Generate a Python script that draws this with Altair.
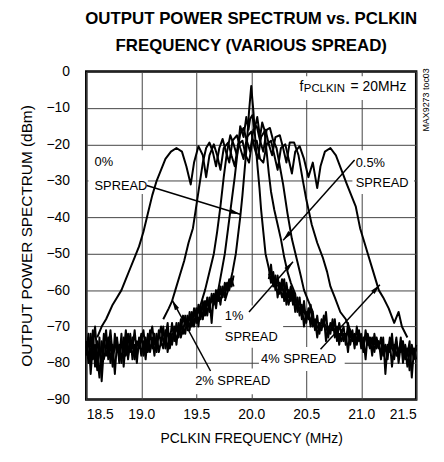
import math
import altair as alt
import pandas as pd

FONT = "Liberation Sans, Arial, Helvetica, sans-serif"

# ---------------- chart values ----------------
x_ticks = [18.5, 19.0, 19.5, 20.0, 20.5, 21.0, 21.5]
y_ticks = [0, -10, -20, -30, -40, -50, -60, -70, -80, -90]

spread_0 = [(19.76, -63), (19.80, -59), (19.83, -55), (19.86, -50), (19.88, -45), (19.90, -40),
            (19.92, -34), (19.94, -27), (19.96, -20), (19.98, -11), (20.00, -4), (20.02, -11),
            (20.04, -20), (20.06, -27), (20.075, -32), (20.09, -38), (20.11, -44), (20.13, -50),
            (20.16, -54), (20.20, -57), (20.24, -59)]

spread_05 = [(19.68, -63), (19.70, -60), (19.73, -55), (19.76, -50), (19.79, -43), (19.82, -36),
             (19.85, -29), (19.88, -21), (19.90, -15), (19.93, -18), (19.955, -12.5), (19.975, -16),
             (19.99, -13), (20.01, -12), (20.03, -16), (20.055, -12.5), (20.08, -18), (20.10, -14),
             (20.12, -16), (20.14, -22), (20.16, -28), (20.18, -33), (20.21, -38), (20.24, -42),
             (20.27, -46), (20.30, -51), (20.33, -55), (20.36, -58), (20.40, -61)]

spread_1 = [(19.52, -66), (19.55, -63), (19.58, -60), (19.62, -55), (19.66, -50), (19.69, -44),
            (19.72, -37), (19.75, -29), (19.78, -22), (19.81, -17.5), (19.84, -20), (19.87, -23),
            (19.90, -17), (19.93, -15.5), (19.96, -19), (19.99, -22), (20.02, -16), (20.05, -15),
            (20.08, -19), (20.11, -22), (20.14, -16), (20.17, -15.5), (20.20, -19), (20.23, -21),
            (20.26, -26), (20.29, -31), (20.33, -39), (20.37, -46), (20.41, -51), (20.45, -56),
            (20.48, -60), (20.52, -63), (20.56, -66)]

spread_2 = [(19.20, -68), (19.25, -65), (19.28, -63), (19.31, -60), (19.35, -56), (19.39, -52),
            (19.43, -47), (19.47, -43), (19.50, -37), (19.53, -31), (19.56, -25), (19.59, -21),
            (19.62, -19.5), (19.65, -22), (19.68, -26), (19.71, -21), (19.74, -18.5), (19.77, -22),
            (19.80, -25), (19.83, -19), (19.87, -17.5), (19.90, -21), (19.93, -24), (19.96, -18),
            (20.00, -16.5), (20.03, -21), (20.06, -24), (20.09, -18), (20.13, -16), (20.16, -20),
            (20.19, -23), (20.22, -18), (20.26, -17.5), (20.29, -21), (20.32, -25), (20.35, -19.5),
            (20.39, -19.5), (20.43, -23), (20.47, -30), (20.50, -35), (20.55, -42), (20.60, -47),
            (20.65, -51), (20.69, -55), (20.72, -59), (20.76, -62), (20.81, -66), (20.86, -68),
            (20.90, -71)]

spread_4 = [(18.60, -73), (18.64, -70), (18.68, -68), (18.71, -66), (18.74, -64), (18.78, -62),
            (18.82, -60), (18.86, -57), (18.90, -54), (18.94, -51), (18.98, -48), (19.02, -44),
            (19.06, -39), (19.10, -34), (19.14, -30), (19.18, -27), (19.22, -24), (19.27, -22),
            (19.32, -21), (19.37, -22), (19.41, -26), (19.45, -31), (19.48, -25), (19.52, -20.5),
            (19.56, -23), (19.59, -29), (19.62, -23), (19.66, -20), (19.69, -23), (19.72, -27),
            (19.75, -21), (19.79, -19.5), (19.82, -23), (19.85, -26), (19.88, -20), (19.92, -19),
            (19.95, -23), (19.98, -25), (20.01, -19), (20.05, -19), (20.08, -24), (20.11, -25),
            (20.14, -20), (20.18, -19), (20.21, -23), (20.24, -27), (20.27, -21), (20.31, -20),
            (20.34, -24), (20.37, -28), (20.40, -22), (20.44, -20.5), (20.48, -24), (20.52, -29),
            (20.56, -25), (20.60, -32), (20.63, -26), (20.67, -22), (20.72, -21), (20.77, -23),
            (20.82, -27), (20.87, -31), (20.91, -34), (20.95, -37), (20.99, -43), (21.03, -47),
            (21.06, -50), (21.11, -55), (21.16, -60), (21.20, -62), (21.25, -65), (21.30, -69),
            (21.34, -66), (21.37, -70), (21.42, -73)]

# noise floor, low side and high side (three overlapping sweeps)
floor_low_f = [18.50, 18.52, 18.54, 18.56, 18.58, 18.60, 18.62, 18.64, 18.66, 18.68,
               18.70, 18.72, 18.74, 18.76, 18.78, 18.80, 18.82, 18.84, 18.86, 18.88,
               18.90, 18.92, 18.94, 18.96, 18.98, 19.00, 19.02, 19.04, 19.06, 19.08,
               19.10, 19.12, 19.14, 19.16, 19.18, 19.20, 19.22, 19.24, 19.26, 19.28,
               19.30, 19.32, 19.34, 19.36, 19.38, 19.40, 19.42, 19.44, 19.46, 19.48,
               19.50, 19.52, 19.54, 19.56, 19.58, 19.60, 19.62, 19.64, 19.66, 19.68,
               19.70, 19.72, 19.74, 19.76, 19.78, 19.80, 19.82, 19.84]
floor_low_a = [-74, -80, -72, -79, -75, -82, -73, -85, -76, -71,
               -79, -74, -81, -72, -77, -75, -80, -73, -78, -72,
               -77, -73, -79, -74, -76, -72, -78, -73, -77, -71,
               -76, -72, -77, -71, -75, -70, -76, -71, -74, -69,
               -74, -69, -73, -68, -72, -67, -71, -66, -70, -65,
               -69, -64, -68, -63, -67, -62, -66, -61, -64, -60,
               -63, -59, -62, -58, -60, -57, -59, -56]
floor_low_b = [-78, -72, -83, -75, -70, -78, -84, -74, -79, -76,
               -73, -80, -75, -83, -74, -79, -72, -81, -74, -78,
               -72, -79, -75, -80, -73, -78, -74, -79, -72, -77,
               -73, -78, -72, -77, -74, -76, -71, -77, -72, -75,
               -70, -75, -69, -73, -70, -72, -67, -71, -66, -70,
               -65, -70, -64, -68, -63, -67, -62, -69, -61, -65,
               -60, -64, -59, -62, -58, -60, -57, -59]
floor_low_c = [-76, -73, -79, -71, -81, -74, -77, -80, -72, -78,
               -76, -71, -78, -76, -73, -80, -74, -77, -71, -79,
               -74, -76, -71, -78, -75, -74, -71, -77, -75, -73,
               -70, -75, -74, -73, -70, -74, -73, -69, -76, -72,
               -72, -71, -70, -71, -67, -69, -69, -68, -68, -67,
               -67, -66, -66, -65, -65, -64, -64, -63, -63, -62,
               -62, -61, -60, -60, -59, -58, -57, -57]

floor_high_f = [20.16, 20.18, 20.20, 20.22, 20.24, 20.26, 20.28, 20.30, 20.32, 20.34,
                20.36, 20.38, 20.40, 20.42, 20.44, 20.46, 20.48, 20.50, 20.52, 20.54,
                20.56, 20.58, 20.60, 20.62, 20.64, 20.66, 20.68, 20.70, 20.72, 20.74,
                20.76, 20.78, 20.80, 20.82, 20.84, 20.86, 20.88, 20.90, 20.92, 20.94,
                20.96, 20.98, 21.00, 21.02, 21.04, 21.06, 21.08, 21.10, 21.12, 21.14,
                21.16, 21.18, 21.20, 21.22, 21.24, 21.26, 21.28, 21.30, 21.32, 21.34,
                21.36, 21.38, 21.40, 21.42, 21.44, 21.46, 21.48, 21.50]
floor_high_a = [-54, -58, -55, -60, -56, -61, -57, -63, -58, -62,
                -59, -64, -61, -66, -62, -68, -63, -69, -65, -70,
                -66, -71, -67, -72, -68, -70, -66, -73, -69, -71,
                -68, -74, -69, -72, -70, -75, -69, -73, -71, -76,
                -70, -74, -72, -77, -71, -75, -73, -78, -72, -76,
                -74, -79, -73, -83, -75, -77, -72, -79, -74, -78,
                -73, -80, -75, -78, -74, -84, -76, -79]
floor_high_b = [-57, -53, -59, -56, -62, -58, -60, -57, -64, -60,
                -63, -60, -66, -62, -67, -64, -70, -66, -68, -64,
                -70, -68, -73, -69, -71, -67, -74, -70, -72, -68,
                -73, -70, -75, -71, -74, -72, -77, -71, -74, -72,
                -75, -71, -76, -73, -79, -72, -75, -74, -77, -73,
                -76, -73, -78, -75, -77, -74, -81, -75, -78, -76,
                -77, -74, -79, -76, -82, -75, -78, -76]
floor_high_c = [-56, -55, -57, -58, -58, -59, -62, -60, -61, -64,
                -61, -62, -63, -64, -65, -66, -66, -67, -67, -68,
                -68, -69, -70, -71, -70, -69, -70, -72, -71, -70,
                -71, -72, -72, -74, -72, -73, -71, -75, -72, -74,
                -73, -72, -74, -75, -73, -74, -76, -73, -75, -74,
                -75, -77, -75, -76, -79, -73, -76, -77, -73, -80,
                -75, -77, -76, -81, -77, -76, -79, -75]

# ---------------- annotations ----------------
label_texts = ["0%", "SPREAD", "0.5%", "SPREAD", "1%", "SPREAD", "2% SPREAD", "4% SPREAD",
               "f", "PCLKIN", "= 20MHz"]
label_f = [18.575, 18.575, 20.95, 20.95, 19.76, 19.76, 19.49, 20.09, 20.44, 20.478, 20.903]
label_db = [-24.8, -31.3, -25.0, -30.7, -67.2, -72.9, -84.9, -78.9, -4.2, -4.9, -4.2]
label_size = [13, 13, 13, 13, 13, 13, 13, 13, 14, 11.5, 14]

box_f1 = [18.52, 20.92, 19.73, 19.47, 20.07, 20.42]
box_f2 = [19.06, 21.48, 20.29, 20.25, 20.85, 21.47]
box_db1 = [-21.6, -21.6, -64.2, -81.5, -75.6, -1.3]
box_db2 = [-33.6, -33.6, -75.8, -88.6, -82.2, -7.8]

arrow_f1 = [19.05, 20.94, 19.98, 19.63, 20.63]
arrow_db1 = [-31.3, -24.3, -66.0, -82.2, -76.2]
arrow_f2 = [19.90, 20.29, 20.38, 19.28, 21.17]
arrow_db2 = [-39.2, -46.3, -52.2, -62.7, -58.5]

W, H = 333, 331
PX_F = W / 3.0
PX_DB = H / 90.0

# ---------------- tables ----------------
rows = []
for name, pts in [("0%", spread_0), ("0.5%", spread_05), ("1%", spread_1),
                  ("2%", spread_2), ("4%", spread_4)]:
    for i, (f, d) in enumerate(pts):
        rows.append({"series": name, "i": i, "f": f, "db": d})
for name, fs, ds in [("la", floor_low_f, floor_low_a), ("lb", floor_low_f, floor_low_b),
                     ("lc", floor_low_f, floor_low_c),
                     ("ha", floor_high_f, floor_high_a), ("hb", floor_high_f, floor_high_b),
                     ("hc", floor_high_f, floor_high_c)]:
    for i, (f, d) in enumerate(zip(fs, ds)):
        rows.append({"series": name, "i": i, "f": f, "db": d})
traces = pd.DataFrame(rows)

labels = pd.DataFrame({"t": label_texts, "f": label_f, "db": label_db, "s": label_size})
boxes = pd.DataFrame({"f1": box_f1, "f2": box_f2, "d1": box_db1, "d2": box_db2})

ang = []
for a, b, c, d in zip(arrow_f1, arrow_db1, arrow_f2, arrow_db2):
    dx = (c - a) * PX_F
    dy = -(d - b) * PX_DB
    ang.append(math.degrees(math.atan2(dx, -dy)) % 360)
arrows = pd.DataFrame({"f1": arrow_f1, "d1": arrow_db1, "f2": arrow_f2, "d2": arrow_db2, "ang": ang})

xs = alt.Scale(domain=[18.5, 21.5], nice=False, zero=False)
ys = alt.Scale(domain=[-90, 0], nice=False, zero=False)

xaxis = alt.Axis(values=x_ticks, format=".1f", title="PCLKIN FREQUENCY (MHz)", labelPadding=8,
                 titlePadding=10, labelOverlap=False)
yaxis = alt.Axis(values=y_ticks, format="d", title="OUTPUT POWER SPECTRUM (dBm)", labelPadding=17,
                 titlePadding=12, labelOverlap=False, titleFontSize=15.5)

lines = alt.Chart(traces).mark_line(color="black", strokeWidth=2, strokeJoin="round").encode(
    x=alt.X("f:Q", scale=xs, axis=xaxis),
    y=alt.Y("db:Q", scale=ys, axis=yaxis),
    detail="series:N",
    order="i:Q",
)

rects = alt.Chart(boxes).mark_rect(color="white").encode(
    x=alt.X("f1:Q", scale=xs, axis=xaxis), x2="f2:Q",
    y=alt.Y("d1:Q", scale=ys, axis=yaxis), y2="d2:Q"
)

texts = alt.Chart(labels).mark_text(align="left", baseline="middle", font=FONT, color="black").encode(
    x=alt.X("f:Q", scale=xs, axis=xaxis), y=alt.Y("db:Q", scale=ys, axis=yaxis), text="t:N",
    size=alt.Size("s:Q", scale=None, legend=None),
)

rules = alt.Chart(arrows).mark_rule(color="black", strokeWidth=1.5).encode(
    x=alt.X("f1:Q", scale=xs, axis=xaxis), y=alt.Y("d1:Q", scale=ys, axis=yaxis),
    x2="f2:Q", y2="d2:Q"
)

heads = alt.Chart(arrows).mark_point(
    shape="M0,0L-0.45,2L0.45,2Z", filled=True, color="black", opacity=1, size=110, strokeWidth=0
).encode(
    x=alt.X("f2:Q", scale=xs, axis=xaxis), y=alt.Y("d2:Q", scale=ys, axis=yaxis),
    angle=alt.Angle("ang:Q", scale=None)
)

side = alt.Chart(pd.DataFrame({"t": ["MAX9273 toc03"], "f": [21.59], "db": [-7.8]})).mark_text(
    angle=270, fontSize=9, font=FONT, color="black", baseline="middle", align="center"
).encode(x=alt.X("f:Q", scale=xs, axis=xaxis), y=alt.Y("db:Q", scale=ys, axis=yaxis), text="t:N")

chart = alt.layer(lines, rects, texts, rules, heads, side).properties(
    width=W, height=H,
    autosize=alt.AutoSizeParams(type="none"),
    padding={"left": 79, "top": 62, "right": 20, "bottom": 53},
    title=alt.TitleParams(
        text=["OUTPUT POWER SPECTRUM vs. PCLKIN", "FREQUENCY (VARIOUS SPREAD)"],
        font=FONT, fontSize=17, fontWeight="bold", lineHeight=27, offset=10, anchor="middle",
        color="black",
    ),
).configure_view(stroke="black", strokeWidth=2.5).configure_axis(
    grid=True, gridColor="#444", gridWidth=1, domain=False, ticks=False, labelOverlap=False,
    labelFont=FONT, labelFontSize=14, labelColor="black",
    titleFont=FONT, titleFontSize=14, titleFontWeight="normal", titleColor="black",
)

chart.save("out.html", embed_options={"renderer": "svg", "actions": False})
